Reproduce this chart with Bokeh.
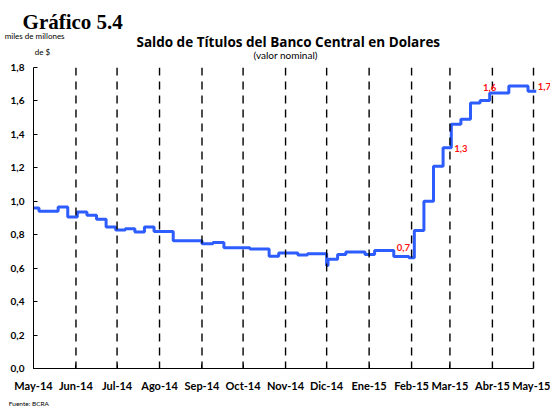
import pandas as pd
from bokeh.plotting import figure
from bokeh.models import (ColumnDataSource, FixedTicker, Label, LabelSet, Range1d, Span)
from bokeh.core.properties import value
from bokeh.embed import file_html
from bokeh.resources import INLINE

# ---- data ----
step_dates = ["2014-05-01", "2014-05-05", "2014-05-19", "2014-05-26", "2014-06-02", "2014-06-09",
              "2014-06-16", "2014-06-23", "2014-06-30", "2014-07-07", "2014-07-14", "2014-07-21",
              "2014-07-28", "2014-08-11", "2014-09-01", "2014-09-09", "2014-09-17", "2014-10-06",
              "2014-10-20", "2014-10-27", "2014-11-10", "2014-11-17", "2014-12-01", "2014-12-02",
              "2014-12-09", "2014-12-15", "2014-12-29", "2015-01-05", "2015-01-19", "2015-01-30",
              "2015-02-03", "2015-02-10", "2015-02-17", "2015-02-24", "2015-03-02", "2015-03-09",
              "2015-03-16", "2015-03-23", "2015-03-30", "2015-04-13", "2015-04-27", "2015-05-03"]
step_values = [0.96, 0.94, 0.966, 0.906, 0.936, 0.916,
               0.892, 0.846, 0.828, 0.836, 0.816, 0.846,
               0.82, 0.764, 0.746, 0.754, 0.722, 0.714,
               0.672, 0.69, 0.678, 0.686, 0.616, 0.654,
               0.682, 0.696, 0.682, 0.706, 0.67, 0.662,
               0.825, 1.0, 1.21, 1.32, 1.46, 1.49,
               1.587, 1.603, 1.647, 1.69, 1.658, 1.658]

month_dates = ["2014-05-01", "2014-06-01", "2014-07-01", "2014-08-01", "2014-09-01", "2014-10-01",
               "2014-11-01", "2014-12-01", "2015-01-01", "2015-02-01", "2015-03-01", "2015-04-01",
               "2015-05-01"]
month_labels = ["May-14", "Jun-14", "Jul-14", "Ago-14", "Sep-14", "Oct-14", "Nov-14", "Dic-14",
                "Ene-15", "Feb-15", "Mar-15", "Abr-15", "May-15"]

y_ticks = [0.0, 0.2, 0.4, 0.6, 0.8, 1.0, 1.2, 1.4, 1.6, 1.8]
y_tick_labels = ["0,0", "0,2", "0,4", "0,6", "0,8", "1,0", "1,2", "1,4", "1,6", "1,8"]

note_dates = ["2015-01-26", "2015-03-09", "2015-03-30", "2015-05-09"]
note_values = [0.724, 1.316, 1.68, 1.687]
note_texts = ["0,7", "1,3", "1,6", "1,7"]

FONT = "Lato"

# ---- figure ----
xs = pd.to_datetime(step_dates)
month_ts = pd.to_datetime(month_dates)
month_ms = [t.value / 1e6 for t in month_ts]
x_start, x_end = month_ts[0], month_ts[-1]
# extra room on the right (17px of a 500px axis) for the last value note
x_view_end = x_end + (x_end - x_start) * 17 / 500

p = figure(width=550, height=412, output_backend="svg", toolbar_location=None,
           x_axis_type="datetime",
           x_range=Range1d(x_start, x_view_end),
           y_range=Range1d(0, 1.8),
           min_border_left=33, min_border_right=0, min_border_top=67, min_border_bottom=44)
p.outline_line_color = None
p.xgrid.visible = False
p.ygrid.visible = False
p.background_fill_color = "white"
p.border_fill_color = "white"

for t in month_ts[1:]:
    p.add_layout(Span(location=t, dimension="height", line_color="black",
                      line_width=1.4, line_dash="8 6"))

src = ColumnDataSource(dict(x=xs, y=step_values))
p.step("x", "y", source=src, mode="after", line_color="#2D5CFF", line_width=3)

# axes
p.xaxis.bounds = (x_start, x_end)
p.xaxis.ticker = FixedTicker(ticks=month_ms)
p.xaxis.major_label_overrides = {m: l for m, l in zip(month_ms, month_labels)}
p.xaxis.major_label_text_font = FONT
p.xaxis.major_label_text_font_style = "bold"
p.xaxis.major_label_text_font_size = "11px"
p.xaxis.major_label_text_color = "black"
p.xaxis.major_label_standoff = 10
p.xaxis.major_tick_in = 4
p.xaxis.major_tick_out = 0
p.xaxis.minor_tick_line_color = None
p.xaxis.axis_line_color = "black"
p.xaxis.major_tick_line_color = "black"

p.yaxis.ticker = FixedTicker(ticks=y_ticks)
p.yaxis.major_label_overrides = {v: l for v, l in zip(y_ticks, y_tick_labels)}
p.yaxis.major_label_text_font = FONT
p.yaxis.major_label_text_font_style = "bold"
p.yaxis.major_label_text_font_size = "10px"
p.yaxis.major_label_text_color = "black"
p.yaxis.major_label_standoff = 9
p.yaxis.major_tick_in = 4
p.yaxis.major_tick_out = 0
p.yaxis.minor_tick_line_color = None
p.yaxis.axis_line_color = "black"
p.yaxis.major_tick_line_color = "black"

# value notes
nsrc = ColumnDataSource(dict(x=pd.to_datetime(note_dates), y=note_values, t=note_texts))
p.add_layout(LabelSet(x="x", y="y", text="t", source=nsrc, text_color="#FF1010",
                      text_font=value(FONT), text_font_style="bold", text_font_size="9.5px",
                      text_align="center", text_baseline="middle"))

# texts around the frame (placed in side panels so they are not clipped)
def add_text(txt, d, y, size, side, style="normal", font=FONT, align="left", baseline="middle"):
    p.add_layout(Label(x=pd.Timestamp(d), y=y, text=txt,
                       text_font=font, text_font_size=size, text_font_style=style,
                       text_align=align, text_baseline=baseline, text_color="black"), side)

add_text("Gráfico 5.4", "2014-04-23", 2.072, "21px", "above", "bold", font="Liberation Serif")
add_text("miles de millones", "2014-04-10", 1.99, "8px", "above")
add_text("Saldo de Títulos del Banco Central en Dolares", "2014-11-03", 1.95, "13.5px", "above",
         "bold", font="Open Sans", align="center")
add_text("(valor nominal)", "2014-11-01", 1.872, "10px", "above", align="center")
add_text("de $", "2014-05-02", 1.89, "8px", "below")
add_text("Fuente: BCRA", "2014-04-13", -0.209, "6.5px", "below")

open("out.html", "w").write(file_html(p, INLINE))
